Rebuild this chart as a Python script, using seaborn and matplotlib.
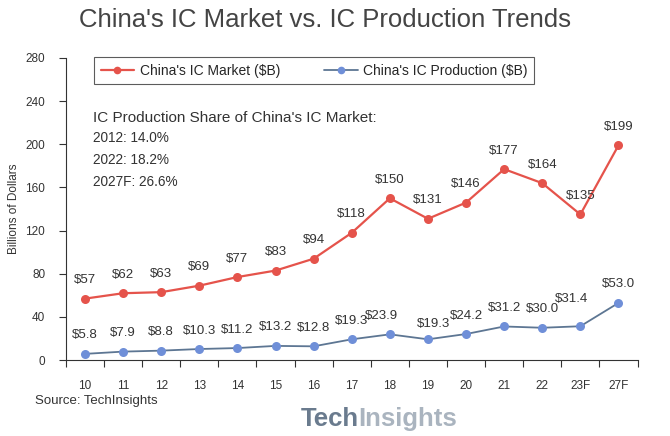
import matplotlib
matplotlib.use("Agg")
import matplotlib.pyplot as plt
from matplotlib.lines import Line2D
import numpy as np
import pandas as pd
import seaborn as sns

# ── data ────────────────────────────────────────────
years = ["10", "11", "12", "13", "14", "15", "16", "17", "18", "19", "20", "21", "22", "23F", "27F"]
market = [57, 62, 63, 69, 77, 83, 94, 118, 150, 131, 146, 177, 164, 135, 199]
production = [5.8, 7.9, 8.8, 10.3, 11.2, 13.2, 12.8, 19.3, 23.9, 19.3, 24.2, 31.2, 30.0, 31.4, 53.0]
market_labels = ["$57", "$62", "$63", "$69", "$77", "$83", "$94", "$118", "$150", "$131", "$146", "$177", "$164", "$135", "$199"]
prod_labels = ["$5.8", "$7.9", "$8.8", "$10.3", "$11.2", "$13.2", "$12.8", "$19.3", "$23.9", "$19.3", "$24.2", "$31.2", "$30.0", "$31.4", "$53.0"]
series_names = ["China's IC Market ($B)", "China's IC Production ($B)"]
share_lines = ["IC Production Share of China's IC Market:", "2012: 14.0%", "2022: 18.2%", "2027F: 26.6%"]

df = pd.DataFrame({
    "year": years * 2,
    "value": market + production,
    "series": [series_names[0]] * len(years) + [series_names[1]] * len(years),
})

sns.set_style("white")
plt.rcParams["font.family"] = ["Liberation Sans", "DejaVu Sans"]

RED = "#e5534b"
BLUE = "#6f8fd8"
BLUE_LINE = "#5d7693"
TXT = "#333333"

fig = plt.figure(figsize=(6.7, 4.36), dpi=100)
ax = fig.add_axes([0.0985, 0.174, 0.853, 0.693])

sns.lineplot(data=df, x="year", y="value", hue="series", sort=False,
             palette=[RED, BLUE], marker="o", markersize=6.5, markeredgewidth=0,
             linewidth=1.6, ax=ax, legend=False)
# production line a bit greyer than its markers
ax.lines[1].set_color(BLUE_LINE)
ax.lines[1].set_markerfacecolor(BLUE)
ax.lines[1].set_linewidth(1.3)

# value labels
p_off = {8: (-6, 0), 9: (4, -2), 13: (-6, 6)}
for i, (v, t) in enumerate(zip(market, market_labels)):
    ax.annotate(t, (i, v), xytext=(0, 9), textcoords="offset points",
                ha="center", va="bottom", fontsize=9.5, color=TXT)
for i, (v, t) in enumerate(zip(production, prod_labels)):
    dx, dy = p_off.get(i, (0, 0))
    ax.annotate(t, (i, v), xytext=(dx, 9 + dy), textcoords="offset points",
                ha="center", va="bottom", fontsize=9.5, color=TXT)

# axes styling
ax.set_xlim(-0.5, len(years) - 0.5)
ax.set_ylim(0, 280)
ax.set_yticks(np.arange(0, 281, 40))
ax.set_xticks(range(len(years)))
ax.set_xticklabels(years)
ax.set_xticks(np.arange(-0.5, len(years), 1), minor=True)
ax.tick_params(axis="x", which="major", bottom=False, length=0, pad=14, labelsize=8.5, colors=TXT)
ax.tick_params(axis="x", which="minor", bottom=True, length=5, width=0.8, color=TXT, direction="out")
ax.tick_params(axis="y", left=True, length=5, width=0.8, color=TXT, direction="out",
               labelsize=8.5, labelcolor=TXT, pad=10)
ax.set_xlabel("")
ax.set_ylabel("Billions of Dollars", fontsize=8.5, color=TXT, labelpad=4)
for s in ["top", "right"]:
    ax.spines[s].set_visible(False)
for s in ["left", "bottom"]:
    ax.spines[s].set_color(TXT)
    ax.spines[s].set_linewidth(0.8)

# legend
handles = [Line2D([], [], color=RED, marker="o", markersize=5.5, markeredgewidth=0, lw=1.6),
           Line2D([], [], color=BLUE_LINE, marker="o", markerfacecolor=BLUE,
                  markersize=5.5, markeredgewidth=0, lw=1.3)]
leg = fig.legend(handles, series_names, loc="center", bbox_to_anchor=(0.469, 0.838),
                 ncol=2, fontsize=10, frameon=True, fancybox=False,
                 handlelength=2.4, handletextpad=0.4, columnspacing=3.2, borderpad=0.45)
leg.get_frame().set_edgecolor(TXT)
leg.get_frame().set_linewidth(0.8)

# share annotation
ax.text(0.047, 0.80, share_lines[0], transform=ax.transAxes, fontsize=11, color=TXT, va="center")
for k, line in enumerate(share_lines[1:]):
    ax.text(0.047, 0.735 - 0.073 * k, line, transform=ax.transAxes, fontsize=9.8,
            color=TXT, va="center")

# title & footer
fig.text(0.485, 0.955, "China's IC Market vs. IC Production Trends", ha="center", va="center",
         fontsize=18.5, color="#444444")
fig.text(0.052, 0.081, "Source: TechInsights", fontsize=9.5, color=TXT, va="center")
fig.text(0.535, 0.04, "Tech", ha="right", va="center", fontsize=18.5, fontweight="bold", color="#6a7b8e")
fig.text(0.535, 0.04, "Insights", ha="left", va="center", fontsize=18.5, fontweight="bold", color="#aab4bf")

fig.savefig("out.png", dpi=100)
